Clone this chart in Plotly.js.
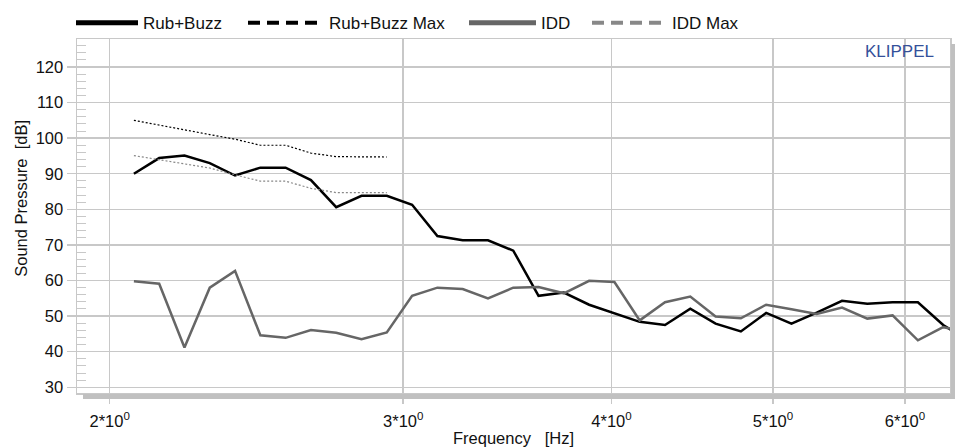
<!DOCTYPE html>
<html>
<head>
<meta charset="utf-8">
<script src="https://cdn.plot.ly/plotly-3.0.1.min.js"></script>
<style>
  html, body { margin: 0; padding: 0; background: #ffffff; }
  #chart { width: 955px; height: 448px; }
</style>
</head>
<body>
<div id="chart"></div>
<script>
const frequency = [2.068, 2.1415, 2.2176, 2.2965, 2.3781, 2.4627, 2.5502, 2.6409, 2.7348, 2.8320,
  2.9327, 3.0370, 3.1450, 3.2568, 3.3726, 3.4925, 3.6167, 3.7453, 3.8784, 4.0163,
  4.1591, 4.3069, 4.4600, 4.6186, 4.7828, 4.9528, 5.1289, 5.3112, 5.5000, 5.6955,
  5.8980, 6.1077, 6.3248, 6.5497];

// Rub+Buzz [dB]
const rubBuzz = [90.0, 94.4, 95.1, 93.0, 89.5, 91.7, 91.7, 88.2, 80.6, 83.8,
  83.8, 81.3, 72.5, 71.3, 71.3, 68.4, 55.7, 56.6, 53.2, 50.9,
  48.4, 47.5, 52.1, 47.9, 45.7, 50.9, 47.9, 51.0, 54.3, 53.5,
  53.9, 53.9, 47.5, 43.0];

// IDD [dB]
const idd = [59.8, 59.1, 41.2, 58.0, 62.7, 44.6, 43.9, 46.1, 45.3, 43.5,
  45.4, 55.7, 58.0, 57.6, 55.0, 58.0, 58.2, 56.4, 59.9, 59.6,
  48.8, 53.9, 55.5, 49.9, 49.4, 53.2, 51.9, 50.6, 52.4, 49.3,
  50.2, 43.2, 46.9, 45.6];

// Limit curves (first 11 frequencies only)
const rubBuzzMax = [105.0, 103.6, 102.2, 101.0, 99.7, 98.0, 98.0, 95.8, 94.8, 94.7, 94.7];
const iddMax = [95.1, 93.9, 92.8, 91.6, 89.7, 87.9, 87.9, 85.9, 84.7, 84.7, 84.7];

// Axis ticks
const xTickVals = [2, 3, 4, 5, 6];
const xTickText = ['2*10<sup>0</sup>', '3*10<sup>0</sup>', '4*10<sup>0</sup>', '5*10<sup>0</sup>', '6*10<sup>0</sup>'];
const yTickVals = [30, 40, 50, 60, 70, 80, 90, 100, 110, 120];

const seriesNames = ['Rub+Buzz', 'Rub+Buzz Max', 'IDD', 'IDD Max'];
const xTitle = 'Frequency\u00A0\u00A0\u00A0[Hz]';
const yTitle = 'Sound Pressure\u00A0\u00A0[dB]';

const FONT = 'Liberation Sans, Arial, Helvetica, sans-serif';
const limitFreq = frequency.slice(0, rubBuzzMax.length);

const traces = [
  { x: frequency, y: rubBuzz, type: 'scatter', mode: 'lines', showlegend: false,
    line: { color: '#000000', width: 2.5 } },
  { x: limitFreq, y: rubBuzzMax, type: 'scatter', mode: 'lines', showlegend: false,
    line: { color: '#000000', width: 1.2, dash: '2px,2px' } },
  { x: frequency, y: idd, type: 'scatter', mode: 'lines', showlegend: false,
    line: { color: '#666666', width: 2.5 } },
  { x: limitFreq, y: iddMax, type: 'scatter', mode: 'lines', showlegend: false,
    line: { color: '#888888', width: 1.2, dash: '2px,2px' } },
  // legend entries
  { x: [null], y: [null], type: 'scatter', mode: 'lines', name: seriesNames[0], legend: 'legend',
    line: { color: '#000000', width: 5 } },
  { x: [null], y: [null], type: 'scatter', mode: 'lines', name: seriesNames[1], legend: 'legend2',
    line: { color: '#000000', width: 4, dash: '12px,7px' } },
  { x: [null], y: [null], type: 'scatter', mode: 'lines', name: seriesNames[2], legend: 'legend3',
    line: { color: '#666666', width: 5 } },
  { x: [null], y: [null], type: 'scatter', mode: 'lines', name: seriesNames[3], legend: 'legend4',
    line: { color: '#888888', width: 4, dash: '12px,7px' } }
];

const L = 77, R = 5, T = 33, B = 55;
const PW = 955 - L - R, PH = 448 - T - B;
const px = (x) => (x - L) / PW;
const py = (y) => 1 - (y - T) / PH;

function leg(xpx, w) {
  return { x: px(xpx), xanchor: 'left', y: py(17), yanchor: 'middle', orientation: 'h',
    bgcolor: 'rgba(0,0,0,0)', borderwidth: 0, itemwidth: w,
    font: { family: FONT, size: 17, color: '#111111' } };
}

const layout = {
  width: 955, height: 448,
  margin: { l: L, r: R, t: T, b: B, pad: 0 },
  paper_bgcolor: '#ffffff', plot_bgcolor: '#ffffff',
  font: { family: FONT, size: 16, color: '#111111' },
  xaxis: {
    type: 'log', range: [0.281413, 0.80514], autorange: false,
    tickvals: xTickVals, ticktext: xTickText,
    showgrid: true, gridcolor: '#c8c8c8', gridwidth: 1.5,
    showline: true, mirror: true, linecolor: '#c8c8c8', linewidth: 1.5,
    ticks: 'outside', ticklen: 9, tickcolor: '#c8c8c8', tickwidth: 1.5,
    ticklabelstandoff: 4,
    tickfont: { family: FONT, size: 16.5, color: '#111111' },
    zeroline: false, automargin: false,
    title: { text: xTitle, font: { family: FONT, size: 16.5, color: '#111111' }, standoff: 3 }
  },
  yaxis: {
    range: [28.4, 127.85], autorange: false,
    tickvals: yTickVals,
    showgrid: true, gridcolor: '#c8c8c8', gridwidth: 1.5,
    showline: true, mirror: true, linecolor: '#c8c8c8', linewidth: 1.5,
    ticks: 'outside', ticklen: 9, tickcolor: '#c8c8c8', tickwidth: 1.5,
    minor: { dtick: 2, ticks: 'inside', ticklen: 9, tickcolor: '#c8c8c8', tickwidth: 1, showgrid: false },
    tickfont: { family: FONT, size: 16.5, color: '#111111' },
    zeroline: false, automargin: false
  },
  legend: leg(71, 62),
  legend2: leg(243, 76),
  legend3: leg(464, 67),
  legend4: leg(587, 75),
  shapes: [
    { type: 'rect', xref: 'paper', yref: 'paper', x0: px(83), x1: px(955), y0: py(399), y1: py(394),
      fillcolor: '#c0c0c0', line: { width: 0 }, layer: 'above' },
    { type: 'rect', xref: 'paper', yref: 'paper', x0: px(951), x1: px(955), y0: py(399), y1: py(38),
      fillcolor: '#c0c0c0', line: { width: 0 }, layer: 'above' }
  ],
  annotations: [
    { text: yTitle, xref: 'paper', yref: 'paper', x: px(21), y: py(195.5), xanchor: 'center', yanchor: 'middle',
      textangle: -90, showarrow: false, font: { family: FONT, size: 16.5, color: '#111111' } },
    { text: 'KLIPPEL', xref: 'paper', yref: 'paper', x: px(936), y: py(46), xanchor: 'right', yanchor: 'middle',
      showarrow: false, font: { family: FONT, size: 17, color: '#34509a' } }
  ]
};

Plotly.newPlot('chart', traces, layout, { staticPlot: true, displayModeBar: false });
</script>
</body>
</html>
